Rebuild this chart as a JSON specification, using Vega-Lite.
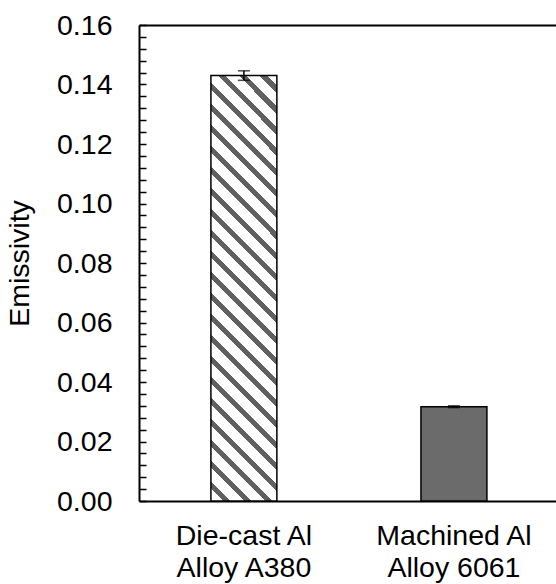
{
  "$schema": "https://vega.github.io/schema/vega-lite/v6.json",
  "autosize": "none",
  "width": 417,
  "height": 476,
  "padding": {"left": 139, "top": 25, "right": 0, "bottom": 83},
  "background": "white",
  "config": {"view": {"stroke": null}, "font": "Liberation Sans"},
  "data": {"values": [
    {"material": "Die-cast Al|Alloy A380", "emissivity": 0.1430, "err_lo": 0.1414, "err_hi": 0.1446},
    {"material": "Machined Al|Alloy 6061", "emissivity": 0.0317, "err_lo": 0.0314, "err_hi": 0.0320}
  ]},
  "resolve": {"axis": {"x": "independent", "y": "independent"}},
  "layer": [
    {
      "transform": [{"filter": "datum.material == 'Die-cast Al|Alloy A380'"}],
      "mark": {
        "type": "bar", "stroke": "black", "strokeWidth": 1.5,
        "fill": {
          "gradient": "linear", "x1": 0, "y1": 1, "x2": 0.1752, "y2": -0.1281,
          "stops": [
            {"offset": 0, "color": "#ffffff"},
            {"offset": 0.0250, "color": "#ffffff"}, {"offset": 0.0250, "color": "#606060"}, {"offset": 0.0400, "color": "#606060"}, {"offset": 0.0400, "color": "#ffffff"},
            {"offset": 0.0678, "color": "#ffffff"}, {"offset": 0.0678, "color": "#606060"}, {"offset": 0.0828, "color": "#606060"}, {"offset": 0.0828, "color": "#ffffff"},
            {"offset": 0.1105, "color": "#ffffff"}, {"offset": 0.1105, "color": "#606060"}, {"offset": 0.1255, "color": "#606060"}, {"offset": 0.1255, "color": "#ffffff"},
            {"offset": 0.1532, "color": "#ffffff"}, {"offset": 0.1532, "color": "#606060"}, {"offset": 0.1682, "color": "#606060"}, {"offset": 0.1682, "color": "#ffffff"},
            {"offset": 0.1959, "color": "#ffffff"}, {"offset": 0.1959, "color": "#606060"}, {"offset": 0.2109, "color": "#606060"}, {"offset": 0.2109, "color": "#ffffff"},
            {"offset": 0.2386, "color": "#ffffff"}, {"offset": 0.2386, "color": "#606060"}, {"offset": 0.2536, "color": "#606060"}, {"offset": 0.2536, "color": "#ffffff"},
            {"offset": 0.2813, "color": "#ffffff"}, {"offset": 0.2813, "color": "#606060"}, {"offset": 0.2963, "color": "#606060"}, {"offset": 0.2963, "color": "#ffffff"},
            {"offset": 0.3240, "color": "#ffffff"}, {"offset": 0.3240, "color": "#606060"}, {"offset": 0.3390, "color": "#606060"}, {"offset": 0.3390, "color": "#ffffff"},
            {"offset": 0.3667, "color": "#ffffff"}, {"offset": 0.3667, "color": "#606060"}, {"offset": 0.3817, "color": "#606060"}, {"offset": 0.3817, "color": "#ffffff"},
            {"offset": 0.4095, "color": "#ffffff"}, {"offset": 0.4095, "color": "#606060"}, {"offset": 0.4245, "color": "#606060"}, {"offset": 0.4245, "color": "#ffffff"},
            {"offset": 0.4522, "color": "#ffffff"}, {"offset": 0.4522, "color": "#606060"}, {"offset": 0.4672, "color": "#606060"}, {"offset": 0.4672, "color": "#ffffff"},
            {"offset": 0.4949, "color": "#ffffff"}, {"offset": 0.4949, "color": "#606060"}, {"offset": 0.5099, "color": "#606060"}, {"offset": 0.5099, "color": "#ffffff"},
            {"offset": 0.5376, "color": "#ffffff"}, {"offset": 0.5376, "color": "#606060"}, {"offset": 0.5526, "color": "#606060"}, {"offset": 0.5526, "color": "#ffffff"},
            {"offset": 0.5803, "color": "#ffffff"}, {"offset": 0.5803, "color": "#606060"}, {"offset": 0.5953, "color": "#606060"}, {"offset": 0.5953, "color": "#ffffff"},
            {"offset": 0.6230, "color": "#ffffff"}, {"offset": 0.6230, "color": "#606060"}, {"offset": 0.6380, "color": "#606060"}, {"offset": 0.6380, "color": "#ffffff"},
            {"offset": 0.6657, "color": "#ffffff"}, {"offset": 0.6657, "color": "#606060"}, {"offset": 0.6807, "color": "#606060"}, {"offset": 0.6807, "color": "#ffffff"},
            {"offset": 0.7085, "color": "#ffffff"}, {"offset": 0.7085, "color": "#606060"}, {"offset": 0.7235, "color": "#606060"}, {"offset": 0.7235, "color": "#ffffff"},
            {"offset": 0.7512, "color": "#ffffff"}, {"offset": 0.7512, "color": "#606060"}, {"offset": 0.7662, "color": "#606060"}, {"offset": 0.7662, "color": "#ffffff"},
            {"offset": 0.7939, "color": "#ffffff"}, {"offset": 0.7939, "color": "#606060"}, {"offset": 0.8089, "color": "#606060"}, {"offset": 0.8089, "color": "#ffffff"},
            {"offset": 0.8366, "color": "#ffffff"}, {"offset": 0.8366, "color": "#606060"}, {"offset": 0.8516, "color": "#606060"}, {"offset": 0.8516, "color": "#ffffff"},
            {"offset": 0.8793, "color": "#ffffff"}, {"offset": 0.8793, "color": "#606060"}, {"offset": 0.8943, "color": "#606060"}, {"offset": 0.8943, "color": "#ffffff"},
            {"offset": 0.9220, "color": "#ffffff"}, {"offset": 0.9220, "color": "#606060"}, {"offset": 0.9370, "color": "#606060"}, {"offset": 0.9370, "color": "#ffffff"},
            {"offset": 0.9647, "color": "#ffffff"}, {"offset": 0.9647, "color": "#606060"}, {"offset": 0.9797, "color": "#606060"}, {"offset": 0.9797, "color": "#ffffff"},
            {"offset": 1, "color": "#ffffff"}
          ]
        }
      },
      "encoding": {
        "x": {
          "field": "material", "type": "nominal", "sort": null,
          "scale": {"domain": ["Die-cast Al|Alloy A380", "Machined Al|Alloy 6061"], "paddingInner": 0.686, "paddingOuter": 0.3357, "align": 0.51},
          "axis": {
            "orient": "bottom", "title": null, "labelAngle": 0, "ticks": false,
            "labelExpr": "split(datum.label, '|')",
            "labelFont": "Liberation Sans", "labelFontSize": 28.5, "labelLineHeight": 32, "labelColor": "black",
            "labelPadding": 20, "domainColor": "black", "domainWidth": 2
          }
        },
        "y": {
          "field": "emissivity", "type": "quantitative",
          "scale": {"domain": [0, 0.16], "nice": false, "zero": true},
          "axis": {
            "orient": "left", "title": "Emissivity", "grid": false,
            "values": [0, 0.004, 0.008, 0.012, 0.016, 0.02, 0.024, 0.028, 0.032, 0.036, 0.04, 0.044, 0.048, 0.052, 0.056, 0.06, 0.064, 0.068, 0.072, 0.076, 0.08, 0.084, 0.088, 0.092, 0.096, 0.1, 0.104, 0.108, 0.112, 0.116, 0.12, 0.124, 0.128, 0.132, 0.136, 0.14, 0.144, 0.148, 0.152, 0.156, 0.16],
            "labelExpr": "abs(datum.value*50 - round(datum.value*50)) < 0.01 ? format(datum.value, '.2f') : ''",
            "labelOverlap": false, "labelFlush": false, "labelBound": false,
            "tickSize": -7, "tickColor": "black", "tickWidth": 1.5,
            "domainColor": "black", "domainWidth": 2,
            "labelFont": "Liberation Sans", "labelFontSize": 28.5, "labelColor": "black", "labelPadding": 34,
            "titleFont": "Liberation Sans", "titleFontSize": 28.5, "titleFontWeight": "normal", "titleColor": "black", "titlePadding": 22
          }
        }
      }
    },
    {
      "transform": [{"filter": "datum.material == 'Machined Al|Alloy 6061'"}],
      "mark": {"type": "bar", "fill": "#6b6b6b", "stroke": "black", "strokeWidth": 1.5},
      "encoding": {
        "x": {"field": "material", "type": "nominal", "sort": null, "axis": null},
        "y": {"field": "emissivity", "type": "quantitative", "axis": null}
      }
    },
    {
      "mark": {"type": "rule", "color": "black", "strokeWidth": 1.5},
      "encoding": {
        "x": {
          "field": "material", "type": "nominal", "sort": null,
          "axis": {"orient": "top", "title": null, "labels": false, "ticks": false, "domain": true, "domainColor": "black", "domainWidth": 2}
        },
        "y": {"field": "err_lo", "type": "quantitative", "axis": null},
        "y2": {"field": "err_hi"}
      }
    },
    {
      "mark": {"type": "tick", "color": "black", "size": 12, "thickness": 1.5},
      "encoding": {
        "x": {"field": "material", "type": "nominal", "sort": null, "axis": null},
        "y": {"field": "err_lo", "type": "quantitative", "axis": null}
      }
    },
    {
      "mark": {"type": "tick", "color": "black", "size": 12, "thickness": 1.5},
      "encoding": {
        "x": {"field": "material", "type": "nominal", "sort": null, "axis": null},
        "y": {"field": "err_hi", "type": "quantitative", "axis": null}
      }
    }
  ]
}
